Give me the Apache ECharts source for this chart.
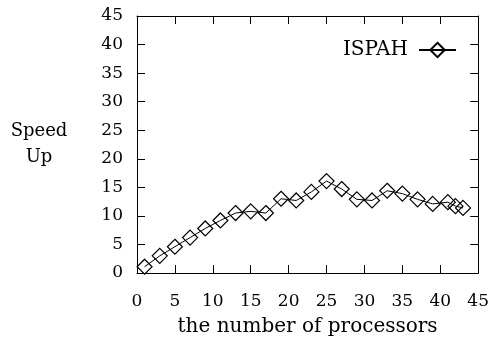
<!DOCTYPE html>
<html>
<head>
<meta charset="utf-8">
<script src="https://cdn.jsdelivr.net/npm/echarts@6/dist/echarts.min.js"></script>
<style>
  html, body { margin: 0; padding: 0; background: #fff; }
  #chart { width: 492px; height: 346px; }
</style>
</head>
<body>
<div id="chart"></div>
<script>
// Number of processors used in each run
const processors = [1, 3, 5, 7, 9, 11, 13, 15, 17, 19, 21, 23, 25, 27, 29, 31, 33, 35, 37, 39, 41, 42, 43];
// Measured speed-up of ISPAH for each processor count
const speedUp = [1.1, 3.0, 4.6, 6.2, 7.8, 9.2, 10.5, 10.8, 10.5, 13.0, 12.7, 14.2, 16.1, 14.7, 12.9, 12.7, 14.4, 13.9, 12.9, 12.1, 12.4, 11.7, 11.4];
const seriesName = 'ISPAH';
const xTitle = 'the number of processors';
const yTitleLines = ['Speed', 'Up'];

const FONT = 'DejaVu Serif';
const points = processors.map((p, i) => [p, speedUp[i]]);

// Shared settings for all four sides of the frame: inward ticks every 5
const axisCommon = {
  type: 'value',
  min: 0,
  max: 45,
  interval: 5,
  splitLine: { show: false },
  axisLine: { show: true, onZero: false, lineStyle: { color: '#000', width: 1 } },
  axisTick: { show: true, inside: true, length: 8, lineStyle: { color: '#000', width: 1 } }
};

const chart = echarts.init(document.getElementById('chart'), null, { renderer: 'canvas' });
chart.setOption({
  animation: false,
  backgroundColor: '#fff',
  grid: { left: 137, right: 13, top: 16, bottom: 73 },
  legend: {
    right: 35,
    top: 40,
    padding: 0,
    align: 'right',
    itemWidth: 37,
    itemHeight: 18,
    itemGap: 0,
    textStyle: { fontFamily: FONT, fontSize: 20, color: '#000', padding: [0, 6, 0, 0] },
    data: [seriesName]
  },
  xAxis: [
    Object.assign({}, axisCommon, {
      position: 'bottom',
      name: xTitle,
      nameLocation: 'middle',
      nameGap: 44,
      nameTextStyle: { fontFamily: FONT, fontSize: 20, color: '#000' },
      axisLabel: { fontFamily: FONT, fontSize: 17, color: '#000', margin: 20 }
    }),
    Object.assign({}, axisCommon, {
      position: 'top',
      axisLabel: { show: false }
    })
  ],
  yAxis: [
    Object.assign({}, axisCommon, {
      position: 'left',
      axisLabel: { fontFamily: FONT, fontSize: 17, color: '#000', margin: 14 }
    }),
    Object.assign({}, axisCommon, {
      position: 'right',
      axisLabel: { show: false }
    })
  ],
  graphic: [{
    type: 'text',
    x: 39,
    y: 118,
    style: {
      text: yTitleLines.join('\n'),
      fontFamily: FONT,
      fontSize: 18,
      fill: '#000',
      align: 'center',
      lineHeight: 26
    }
  }],
  series: [{
    name: seriesName,
    type: 'line',
    xAxisIndex: 0,
    yAxisIndex: 0,
    data: points,
    symbol: 'diamond',
    symbolSize: 15,
    showAllSymbol: true,
    lineStyle: { color: '#000', width: 1 },
    itemStyle: { color: 'rgba(0,0,0,0)', borderColor: '#000', borderWidth: 1.2 },
    emphasis: { disabled: true }
  }]
});
</script>
</body>
</html>
